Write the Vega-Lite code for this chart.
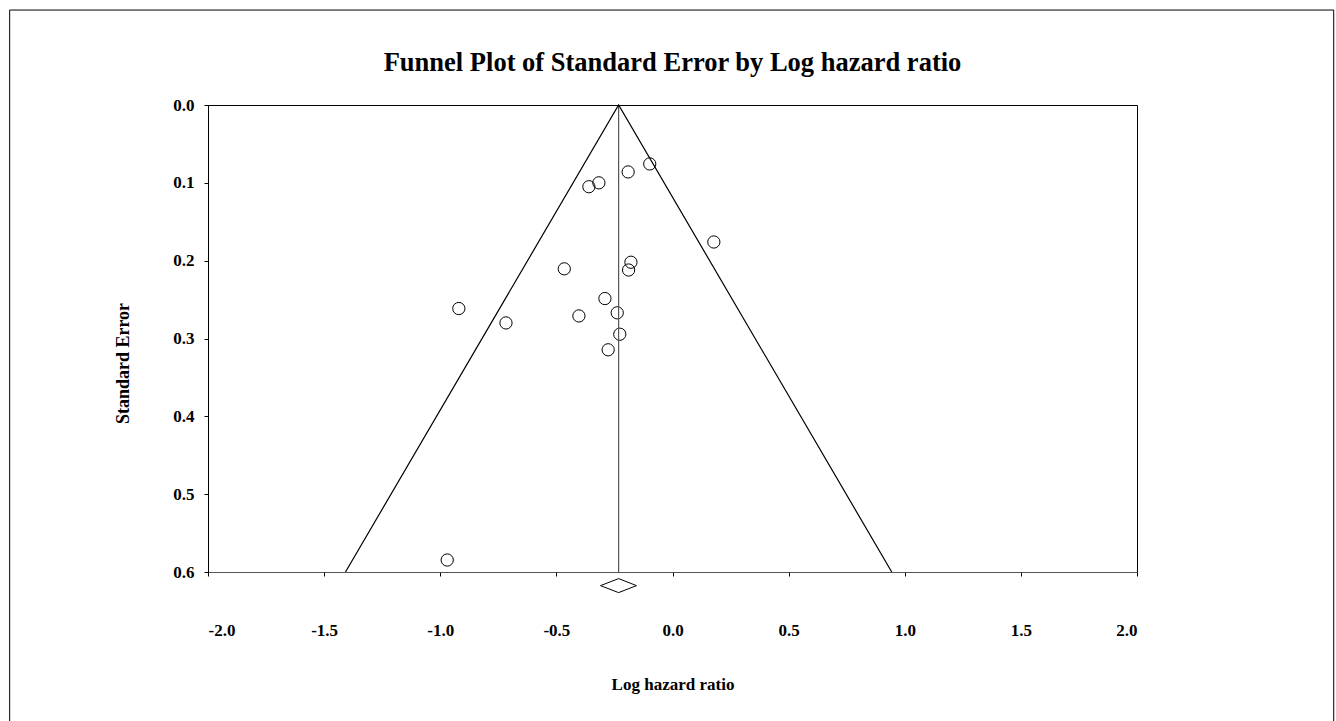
{
  "$schema": "https://vega.github.io/schema/vega-lite/v6.json",
  "width": 929,
  "height": 467,
  "autosize": "none",
  "padding": {"left": 208, "top": 105, "right": 199, "bottom": 149},
  "background": "white",
  "title": {
    "text": "Funnel Plot of Standard Error by Log hazard ratio",
    "font": "Liberation Serif",
    "fontSize": 26.5,
    "fontWeight": "bold",
    "color": "black",
    "anchor": "middle",
    "offset": 0,
    "dy": 67
  },
  "config": {
    "view": {"stroke": "black", "strokeWidth": 1},
    "axis": {
      "labelFont": "Liberation Serif",
      "labelFontWeight": "bold",
      "labelFontSize": 17,
      "labelColor": "black",
      "titleFont": "Liberation Serif",
      "titleFontWeight": "bold",
      "titleFontSize": 17,
      "titleColor": "black",
      "tickColor": "black",
      "domainColor": "black",
      "grid": false,
      "tickSize": 4
    }
  },
  "datasets": {
    "studies": [
      {"logHR": -0.191, "se": 0.086},
      {"logHR": -0.098, "se": 0.0757},
      {"logHR": -0.317, "se": 0.100},
      {"logHR": -0.360, "se": 0.105},
      {"logHR": 0.178, "se": 0.176},
      {"logHR": -0.179, "se": 0.202},
      {"logHR": -0.189, "se": 0.212},
      {"logHR": -0.466, "se": 0.2105},
      {"logHR": -0.920, "se": 0.2615},
      {"logHR": -0.717, "se": 0.280},
      {"logHR": -0.291, "se": 0.2487},
      {"logHR": -0.403, "se": 0.271},
      {"logHR": -0.238, "se": 0.267},
      {"logHR": -0.227, "se": 0.2945},
      {"logHR": -0.277, "se": 0.3145},
      {"logHR": -0.970, "se": 0.5846}
    ],
    "funnel": [
      {"fx": -1.408, "fy": 0.6, "o": 1},
      {"fx": -0.232, "fy": 0.0, "o": 2},
      {"fx": 0.944, "fy": 0.6, "o": 3}
    ],
    "center": [
      {"cx": -0.232, "cy": 0.0},
      {"cx": -0.232, "cy": 0.6}
    ],
    "diamond": [
      {"dx": -0.310, "dy": 0.6175, "o": 1},
      {"dx": -0.232, "dy": 0.6085, "o": 2},
      {"dx": -0.155, "dy": 0.6175, "o": 3},
      {"dx": -0.232, "dy": 0.6265, "o": 4},
      {"dx": -0.310, "dy": 0.6175, "o": 5}
    ],
    "frame": [
      {"x1": -2.854, "x2": 2.847, "y1": -0.122, "y2": 0.85}
    ]
  },
  "layer": [
    {
      "data": {"name": "studies"},
      "mark": {"type": "point", "shape": "circle", "filled": false, "color": "black", "strokeWidth": 1, "size": 150, "opacity": 1},
      "encoding": {
        "x": {
          "field": "logHR",
          "type": "quantitative",
          "scale": {"domain": [-2, 2], "nice": false, "zero": false},
          "axis": {
            "title": "Log hazard ratio",
            "values": [-2, -1.5, -1, -0.5, 0, 0.5, 1, 1.5, 2],
            "labelExpr": "replace(format(datum.value, '.1f'), '\u2212', '-')",
            "labelPadding": 46,
            "titlePadding": 38,
            "domainColor": "#555555"
          }
        },
        "y": {
          "field": "se",
          "type": "quantitative",
          "scale": {"domain": [0, 0.6], "nice": false, "reverse": true},
          "axis": {
            "title": "Standard Error",
            "titleFontSize": 18,
            "titleY": 258,
            "values": [0, 0.1, 0.2, 0.3, 0.4, 0.5, 0.6],
            "format": ".1f",
            "labelPadding": 10,
            "titlePadding": 40
          }
        }
      }
    },
    {
      "data": {"name": "center"},
      "mark": {"type": "line", "color": "#555555", "strokeWidth": 1.2},
      "encoding": {
        "x": {"field": "cx", "type": "quantitative"},
        "y": {"field": "cy", "type": "quantitative"}
      }
    },
    {
      "data": {"name": "funnel"},
      "mark": {"type": "line", "color": "black", "strokeWidth": 1.2},
      "encoding": {
        "x": {"field": "fx", "type": "quantitative"},
        "y": {"field": "fy", "type": "quantitative"},
        "order": {"field": "o", "type": "quantitative"}
      }
    },
    {
      "data": {"name": "diamond"},
      "mark": {"type": "line", "color": "black", "strokeWidth": 1},
      "encoding": {
        "x": {"field": "dx", "type": "quantitative"},
        "y": {"field": "dy", "type": "quantitative"},
        "order": {"field": "o", "type": "quantitative"}
      }
    },
    {
      "data": {"name": "frame"},
      "mark": {"type": "rect", "fill": "transparent", "stroke": "black", "strokeWidth": 1},
      "encoding": {
        "x": {"field": "x1", "type": "quantitative"},
        "x2": {"field": "x2"},
        "y": {"field": "y1", "type": "quantitative"},
        "y2": {"field": "y2"}
      }
    }
  ]
}
